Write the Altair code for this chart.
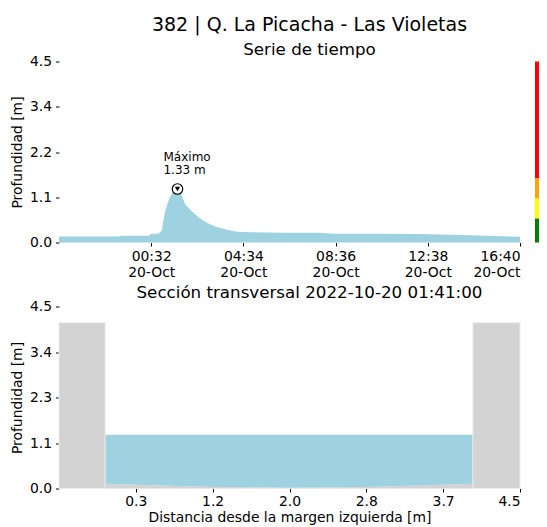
import altair as alt
import pandas as pd

FONT = "DejaVu Sans"
BLUE = "#9ed2e1"
GREY = "#d3d3d3"

TITLE = "382 | Q. La Picacha - Las Violetas"
SUBTITLE = "Serie de tiempo"
SECTION_TITLE = "Sección transversal 2022-10-20 01:41:00"

# ---- time series ----
times = [
    "2022-10-19T20:30", "2022-10-19T21:30", "2022-10-19T22:30", "2022-10-19T23:08",
    "2022-10-19T23:12", "2022-10-20T00:00", "2022-10-20T00:27", "2022-10-20T00:31",
    "2022-10-20T00:48", "2022-10-20T00:55", "2022-10-20T01:00", "2022-10-20T01:03",
    "2022-10-20T01:08", "2022-10-20T01:14", "2022-10-20T01:21", "2022-10-20T01:29",
    "2022-10-20T01:35", "2022-10-20T01:41", "2022-10-20T01:48", "2022-10-20T01:55",
    "2022-10-20T02:01", "2022-10-20T02:09", "2022-10-20T02:18", "2022-10-20T02:27",
    "2022-10-20T02:40", "2022-10-20T02:53", "2022-10-20T03:05", "2022-10-20T03:20",
    "2022-10-20T03:35", "2022-10-20T03:50", "2022-10-20T04:05", "2022-10-20T04:17",
    "2022-10-20T04:33", "2022-10-20T05:30", "2022-10-20T06:30", "2022-10-20T07:55",
    "2022-10-20T08:29", "2022-10-20T10:00", "2022-10-20T12:23", "2022-10-20T14:30",
    "2022-10-20T16:35", "2022-10-20T16:40",
]
depths = [
    0.15, 0.15, 0.15, 0.15,
    0.17, 0.17, 0.17, 0.22,
    0.22, 0.25, 0.30, 0.50,
    0.75, 0.95, 1.12, 1.25,
    1.30, 1.33, 1.25, 1.10,
    0.95, 0.87, 0.78, 0.70,
    0.60, 0.52, 0.46, 0.40,
    0.36, 0.32, 0.29, 0.27,
    0.26, 0.25, 0.245, 0.24,
    0.22, 0.22, 0.21, 0.18,
    0.14, 0.14,
]
time_start = "2022-10-19T20:30"
time_end = "2022-10-20T16:40"
time_ticks = ["2022-10-20T00:32", "2022-10-20T04:34", "2022-10-20T08:36",
              "2022-10-20T12:38", "2022-10-20T16:40"]

peak_label = "Máximo"

# alert levels (colour bar)
level_low = [0.0, 0.6, 1.1, 1.6]
level_high = [0.6, 1.1, 1.6, 4.5]
level_colors = ["#008000", "#ffff00", "#ffa500", "#ff0000"]

# y axis
y_ticks = [0.0, 1.125, 2.25, 3.375, 4.5]
y_labels_top = ["0.0", "1.1", "2.2", "3.4", "4.5"]
y_labels_bottom = ["0.0", "1.1", "2.3", "3.4", "4.5"]

# ---- cross section ----
wall_x0 = [0.0, 4.04]
wall_x1 = [0.45, 4.5]
wall_top = [4.1, 4.1]
bed_x = [0.45, 0.9, 1.5, 2.25, 3.0, 3.6, 4.04]
bed_z = [0.12, 0.08, 0.04, 0.02, 0.04, 0.08, 0.12]
water_level = 1.33
x_tick_pos = [0.75, 1.5, 2.25, 3.0, 3.75, 4.5]
x_tick_labels = ["0.3", "1.2", "2.0", "2.8", "3.7", "4.5"]


def utc_ms(s):
    return int(pd.Timestamp(s, tz="UTC").value // 10**6)


def label_expr(vals, labels):
    return "[" + ",".join(f"'{l}'" for l in labels) + "][indexof([" + ",".join(str(v) for v in vals) + "], datum.value)]"


ts = pd.DataFrame({"t": [t + ":00Z" for t in times], "d": depths})
i_max = depths.index(max(depths))
peak = pd.DataFrame({"t": [times[i_max] + ":00Z"], "d": [depths[i_max]],
                     "txt": [f"{peak_label}\n{depths[i_max]:.2f} m"]})
levels = pd.DataFrame({"lo": level_low, "hi": level_high, "c": level_colors})

W = 461
x_time = alt.X("t:T",
               scale=alt.Scale(type="utc", domain=[utc_ms(time_start), utc_ms(time_end)]),
               axis=alt.Axis(values=[utc_ms(t) for t in time_ticks],
                             labelExpr="[utcFormat(datum.value, '%H:%M'), utcFormat(datum.value, '%d-%b')]",
                             title=None, labelLineHeight=16, labelPadding=3))
y_top = alt.Y("d:Q", scale=alt.Scale(domain=[0, 4.5], nice=False, zero=False),
              axis=alt.Axis(values=y_ticks, labelExpr=label_expr(y_ticks, y_labels_top),
                            title="Profundidad [m]", labelPadding=4, titlePadding=5))

area = alt.Chart(ts).mark_area(color=BLUE, opacity=1).encode(x=x_time, y=y_top)
bar = alt.Chart(levels).mark_rect().encode(
    x=alt.value(W + 15), x2=alt.value(W + 19),
    y=alt.Y("lo:Q", scale=alt.Scale(domain=[0, 4.5], nice=False)), y2="hi:Q",
    color=alt.Color("c:N", scale=None))
circ = alt.Chart(peak).mark_point(shape="circle", filled=True, fill="white", stroke="black",
                                  strokeWidth=1.2, size=110, opacity=1).encode(x="t:T", y="d:Q")
tri = alt.Chart(peak).mark_point(shape="triangle-down", filled=True, color="black",
                                 size=28, opacity=1).encode(x="t:T", y="d:Q")
txt = alt.Chart(peak).mark_text(align="left", baseline="alphabetic", dx=-14, dy=-28.5,
                                fontSize=12, lineBreak="\n", lineHeight=13.5, color="black",
                                font=FONT).encode(x="t:T", y="d:Q", text="txt:N")

top = alt.layer(area, bar, circ, tri, txt).properties(
    width=W, height=181,
    title=alt.TitleParams(TITLE, subtitle=SUBTITLE, fontSize=19, subtitleFontSize=16.7,
                          font=FONT, subtitleFont=FONT, fontWeight="normal",
                          color="black", subtitleColor="black", anchor="middle", dx=20,
                          subtitlePadding=6.5, offset=-4))

walls = pd.DataFrame({"x0": wall_x0, "x1": wall_x1, "top": wall_top})
bed = pd.DataFrame({"x": bed_x, "z": bed_z, "w": [water_level] * len(bed_x)})

x_sec = alt.X("x:Q", scale=alt.Scale(domain=[0, 4.5], nice=False, zero=False),
              axis=alt.Axis(values=x_tick_pos, labelExpr=label_expr(x_tick_pos, x_tick_labels),
                            title="Distancia desde la margen izquierda [m]", titlePadding=3))
y_sec = alt.Y("z:Q", scale=alt.Scale(domain=[0, 4.5], nice=False, zero=False),
              axis=alt.Axis(values=y_ticks, labelExpr=label_expr(y_ticks, y_labels_bottom),
                            title="Profundidad [m]", labelPadding=4, titlePadding=5))

ground = alt.Chart(bed).mark_area(color=GREY, opacity=1).encode(x=x_sec, y=y_sec, y2=alt.Y2(datum=0))
water = alt.Chart(bed).mark_area(color=BLUE, opacity=1).encode(x=x_sec, y=y_sec, y2="w:Q")
wall = alt.Chart(walls).mark_rect(color=GREY, stroke="#ececec", strokeWidth=1).encode(
    x=alt.X("x0:Q", scale=alt.Scale(domain=[0, 4.5], nice=False)), x2="x1:Q",
    y=alt.Y("top:Q", scale=alt.Scale(domain=[0, 4.5], nice=False)), y2=alt.Y2(datum=0))

bottom = alt.layer(ground, water, wall).properties(
    width=W, height=182,
    title=alt.TitleParams(SECTION_TITLE, fontSize=16.7, font=FONT, fontWeight="normal",
                          color="black", anchor="middle", dx=20, offset=-2))

chart = alt.vconcat(top, bottom, spacing=5).configure(
    font=FONT, padding={"left": 2, "top": 7.5, "right": 0, "bottom": 0}
).configure_view(stroke=None).configure_axis(
    domain=False, grid=False, tickColor="black", tickSize=3.5, tickWidth=1,
    labelFont=FONT, labelFontSize=13.9, labelColor="black", labelPadding=2,
    titleFont=FONT, titleFontSize=13.9, titleFontWeight="normal", titleColor="black",
    titlePadding=6,
)

chart.save("out.html", embed_options={"renderer": "svg", "actions": False})
